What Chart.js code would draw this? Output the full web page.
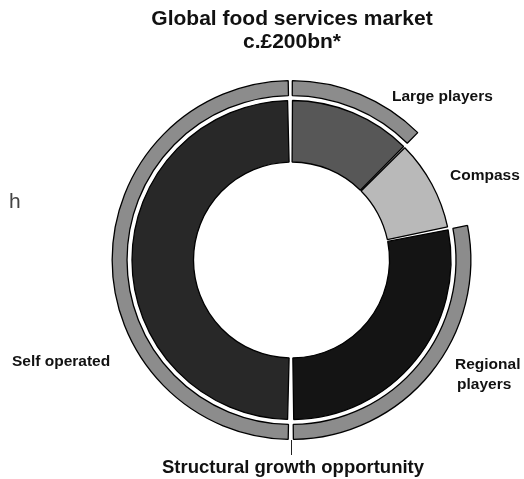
<!DOCTYPE html>
<html>
<head>
<meta charset="utf-8">
<script src="https://cdn.jsdelivr.net/npm/chart.js@4.4.1/dist/chart.umd.min.js"></script>
<style>
  body { margin: 0; background: #fff; }
  #wrap { position: relative; width: 524px; height: 479px; overflow: hidden; font-family: "Liberation Sans", Arial, sans-serif; color: #111; }
  #wrap canvas { position: absolute; left: 0; top: 0; }
  .t { position: absolute; white-space: nowrap; line-height: 1; font-weight: bold; }
  .c { text-align: center; transform: translateX(-50%); }
</style>
</head>
<body>
<div id="wrap">
  <canvas id="donut" width="524" height="479"></canvas>
  <div class="t c" style="left:292px; top:7px; font-size:21px;">Global food services market</div>
  <div class="t c" style="left:292px; top:30px; font-size:21px;">c.£200bn*</div>
  <div class="t" style="left:392px; top:88px; font-size:15.5px;">Large players</div>
  <div class="t" style="left:450px; top:167px; font-size:15.5px;">Compass</div>
  <div class="t" style="left:455px; top:356px; font-size:15.5px;">Regional</div>
  <div class="t" style="left:457px; top:376px; font-size:15.5px;">players</div>
  <div class="t" style="left:12px; top:353px; font-size:15.5px;">Self operated</div>
  <div class="t" style="left:9px; top:190px; font-size:21px; font-weight:normal; color:#444;">h</div>
  <div style="position:absolute; left:291px; top:440px; width:1px; height:15px; background:#222;"></div>
  <div class="t c" style="left:293px; top:458px; font-size:18.5px;">Structural growth opportunity</div>
</div>
<script>
// market split, % of the c.£200bn global food services market
const segments = ['Large players', 'Compass', 'Regional players', 'Self operated'];
const marketShares = [12.5, 9.25, 28.25, 50];
// outer ring: structural growth opportunity (everything except Compass)
const growthShares = [12.5, 9.25, 28.25, 50];
const inGrowth = [true, false, true, true];

const segColors = ['#575757', '#b9b9b9', '#141414', '#282828'];
const growthColor = '#8c8c8c';

const ctx = document.getElementById('donut').getContext('2d');
new Chart(ctx, {
    type: 'doughnut',
    data: {
        labels: segments,
        datasets: [{
            label: 'Structural growth opportunity',
            data: growthShares,
            backgroundColor: inGrowth.map(g => g ? growthColor : 'rgba(0,0,0,0)'),
            borderColor: '#000',
            borderWidth: inGrowth.map(g => g ? 1.3 : 0),
            weight: 15
        }, {
            label: 'gap',
            data: growthShares,
            backgroundColor: 'rgba(0,0,0,0)',
            borderWidth: 0,
            weight: 5
        }, {
            label: 'Global food services market',
            data: marketShares,
            backgroundColor: segColors,
            borderColor: '#000',
            borderWidth: 1.3,
            weight: 62
        }]
    },
    options: {
        responsive: false,
        animation: false,
        devicePixelRatio: 1,
        events: [],
        cutout: 96,
        spacing: 4,
        layout: {
            padding: { left: 111.5, right: 52.5, top: 80, bottom: 39 }
        },
        plugins: {
            legend: { display: false },
            tooltip: { enabled: false }
        }
    }
});
</script>
</body>
</html>
